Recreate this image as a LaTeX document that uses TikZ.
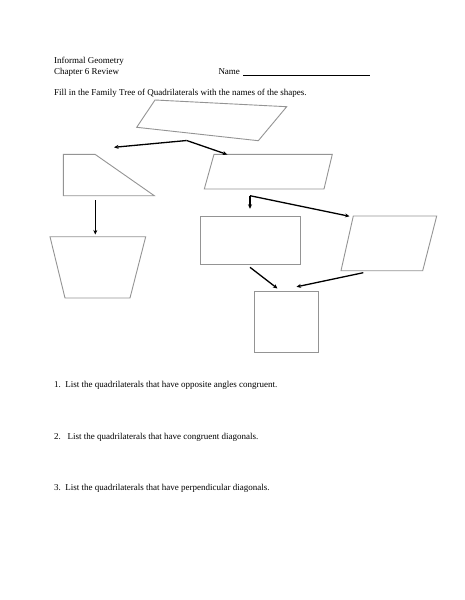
\documentclass[tikz,border=0pt]{standalone}
\usepackage{fontspec}
\setmainfont{Liberation Serif}
\usetikzlibrary{arrows.meta}
\begin{document}
\begin{tikzpicture}[x=1pt,y=-1pt,
  quad/.style={draw=black!42,line width=0.9pt,line join=miter},
  arr/.style={draw=black,line width=1.3pt,-{Stealth[length=4.5pt,width=4pt]}},
  txt/.style={anchor=base west,inner sep=0pt,font=\fontsize{9}{10}\selectfont}]
\useasboundingbox (0,0) rectangle (464,600);
\fill[white] (0,0) rectangle (464,600);
% texts
\node[txt] (t1) at (54,63.3) {Informal Geometry};
\node[txt] (t2) at (54,74) {Chapter 6 Review};
\node[txt] (t3) at (218.3,74) {Name};
\coordinate (nl1) at (243.3,75.5);
\coordinate (nl2) at (370,75.5);
\draw[line width=0.8pt] (nl1) -- (nl2);
\node[txt] (t4) at (54,95.3) {Fill in the Family Tree of Quadrilaterals with the names of the shapes.};
\node[txt] (q1) at (54,387.3) {1.\ \ List the quadrilaterals that have opposite angles congruent.};
\node[txt] (q2) at (54,439) {2.\ \ \ List the quadrilaterals that have congruent diagonals.};
\node[txt] (q3) at (54,490.7) {3.\ \ List the quadrilaterals that have perpendicular diagonals.};
% shapes
\draw[quad] (155,100) -- (286.7,106.7) -- (258.3,140.7) -- (136.7,127.3) -- cycle;
\draw[quad] (63.3,154.3) -- (95,154.3) -- (154.3,195.7) -- (63.3,195.7) -- cycle;
\draw[quad] (214,154.3) -- (332.3,154.3) -- (324,189) -- (204.3,189) -- cycle;
\draw[quad] (50,236.7) -- (145.7,236.7) -- (130,298) -- (65,298) -- cycle;
\draw[quad] (200,216) rectangle (300.7,264);
\draw[quad] (353.3,216) -- (436.7,216) -- (422.7,270.7) -- (341,270.7) -- cycle;
\draw[quad] (254.3,291) rectangle (318.7,352.3);
% arrow points
\coordinate (j1) at (186.7,140.5);
\coordinate (a1) at (114,147.3);
\coordinate (a2) at (227.3,154.5);
\coordinate (b1) at (95.3,200);
\coordinate (b2) at (95.3,234.5);
\coordinate (j2) at (250,195.7);
\coordinate (c1) at (250,208.8);
\coordinate (c2) at (349.5,216.3);
\coordinate (d1) at (250,267.3);
\coordinate (d2) at (277.5,288.5);
\coordinate (e1) at (363.3,272.7);
\coordinate (e2) at (296.5,286.8);
\draw[arr] (j1) -- (a1);
\draw[arr] (j1) -- (a2);
\draw[arr] (b1) -- (b2);
\draw[arr] (j2) -- (c1);
\draw[arr] (j2) -- (c2);
\draw[arr] (d1) -- (d2);
\draw[arr] (e1) -- (e2);
\end{tikzpicture}
\end{document}
